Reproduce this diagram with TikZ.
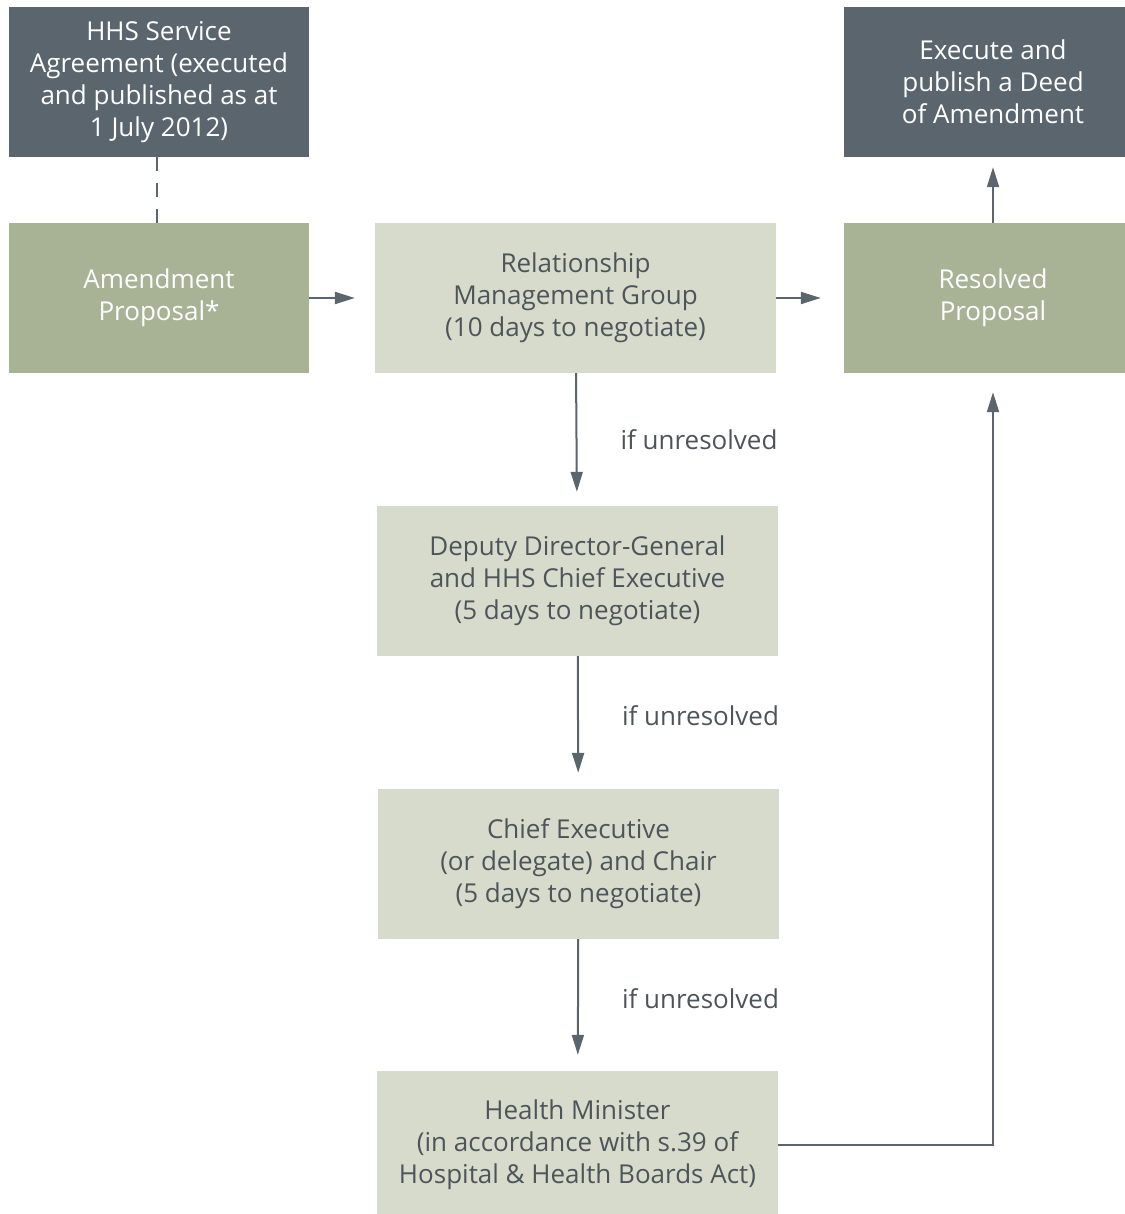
\documentclass[tikz,border=0pt]{standalone}
\usepackage{fontspec}
\setmainfont{Open Sans}
\usepackage{xcolor}
\usetikzlibrary{arrows.meta}
\definecolor{slate}{HTML}{5B656E}
\definecolor{sage}{HTML}{A8B396}
\definecolor{pale}{HTML}{D7DBCC}
\definecolor{ink}{HTML}{4E555A}
\tikzset{>={Triangle[length=20pt,width=12pt]}}
\tikzstyle{box}=[rectangle,inner sep=0pt,align=center,font=\fontsize{26}{32}\selectfont]
\tikzstyle{top}=[box,fill=slate,text=white,minimum width=300pt,minimum height=150pt]
\tikzstyle{prop}=[box,fill=sage,text=white,minimum width=300pt,minimum height=150pt]
\tikzstyle{stage}=[box,fill=pale,text=ink,minimum width=401pt,minimum height=150pt]
\tikzstyle{flow}=[draw=slate,line width=2pt,->]
\tikzstyle{lbl}=[text=ink,font=\fontsize{26}{32}\selectfont,inner sep=0pt]

\begin{document}
\begin{tikzpicture}[x=1pt,y=-1pt]
      \useasboundingbox (0,0) rectangle (1124,1214);
      \node[top] (hhs) at (159,82) {HHS Service\\Agreement (executed\\and published as at\\1 July 2012)};
      \node[top,minimum width=298pt] (deed) at (993,82) {Execute and\\publish a Deed\\of Amendment};
      \node[prop] (amend) at (159,298) {Amendment\\Proposal*};
      \node[stage] (rmg) at (575.5,298) {Relationship\\Management Group\\(10 days to negotiate)};
      \node[prop,minimum width=298pt] (resolved) at (993,298) {Resolved\\Proposal};
      \node[stage] (ddg) at (577.5,581) {Deputy Director-General\\and HHS Chief Executive\\(5 days to negotiate)};
      \node[stage] (ce) at (578.5,864) {Chief Executive\\(or delegate) and Chair\\(5 days to negotiate)};
      \node[stage,minimum height=148pt] (hm) at (577.5,1145) {Health Minister\\(in accordance with s.39 of\\Hospital \& Health Boards Act)};
      \draw[draw=slate,line width=2pt,dash pattern=on 14pt off 12pt] ([xshift=-2pt]hhs.south) -- ([xshift=-2pt]amend.north);
      \draw[flow,shorten >=20pt] (amend) -- (rmg);
      \draw[flow,shorten >=23pt] (rmg) -- (resolved);
      \draw[flow,shorten >=10pt] (resolved) -- (deed);
      \draw[flow,shorten >=14pt] (rmg) -- node[lbl,anchor=west,xshift=43pt] (u1) {if unresolved} (ddg);
      \draw[flow,shorten >=16pt] (ddg) -- node[lbl,anchor=west,xshift=43pt,yshift=7pt] (u2) {if unresolved} (ce);
      \draw[flow,shorten >=16pt] (ce) -- node[lbl,anchor=west,xshift=43pt,yshift=6pt] (u3) {if unresolved} (hm);
      \draw[flow,shorten >=19pt] (hm.east) -| (resolved.south);
    \end{tikzpicture}
\end{document}
